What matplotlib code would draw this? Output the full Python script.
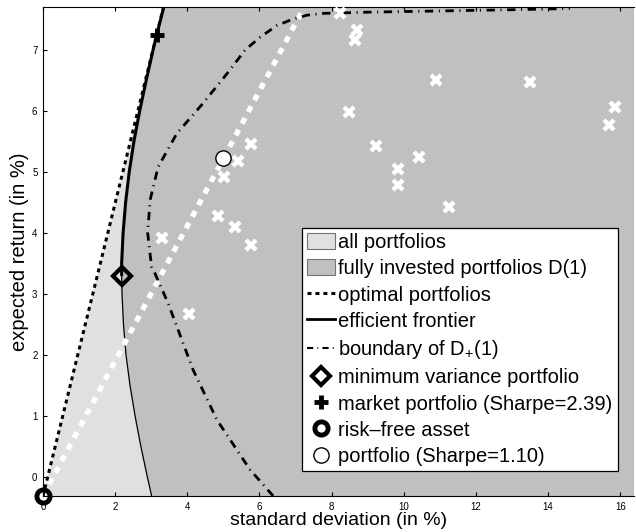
import matplotlib
matplotlib.use("Agg")
import matplotlib.pyplot as plt
from matplotlib.patches import Patch
from matplotlib.lines import Line2D

plt.rcParams['font.family'] = ['Liberation Sans', 'DejaVu Sans']
plt.rcParams['mathtext.fontset'] = 'custom'
plt.rcParams['mathtext.rm'] = 'Liberation Sans'
plt.rcParams['mathtext.it'] = 'Liberation Sans'

# all values in % (standard deviation, expected return)
rf = -0.32
mu_top = 7.7

# mean-variance frontier (hyperbola)
frontier_mu = [-0.32, 0.0, 0.5, 1.0, 1.5, 2.0, 2.5, 3.0, 3.29, 3.5, 4.0, 4.5,
               5.0, 5.5, 6.0, 6.5, 7.0, 7.25, 7.5, 7.7]
frontier_sigma = [3.01, 2.89, 2.71, 2.55, 2.41, 2.30, 2.23, 2.19, 2.18, 2.18,
                  2.22, 2.29, 2.39, 2.52, 2.68, 2.86, 3.05, 3.15, 3.26, 3.345]

# boundary of D+(1) (no short selling)
bound_sigma = [6.38, 5.74, 4.82, 4.16, 3.47, 3.06, 3.01, 2.90, 2.97, 3.19, 3.71,
               4.40, 5.18, 5.60, 6.02, 6.48, 6.94, 7.31, 7.77, 9.0, 11.0, 13.0, 14.6]
bound_mu = [-0.32, 0.11, 0.93, 1.75, 2.84, 3.39, 3.44, 4.00, 4.54, 5.08, 5.63,
            6.10, 6.67, 7.00, 7.21, 7.40, 7.51, 7.57, 7.60, 7.62, 7.64, 7.66, 7.68]

# single assets
assets_sigma = [8.23, 8.70, 8.65, 10.90, 13.50, 8.47, 15.86, 15.70, 9.23, 10.43, 9.85,
                9.85, 11.26, 5.76, 5.41, 5.02, 4.86, 5.32, 5.76, 3.29, 4.06]
assets_mu = [7.60, 7.32, 7.16, 6.51, 6.48, 5.98, 6.06, 5.77, 5.43, 5.24, 5.04,
             4.78, 4.42, 5.45, 5.18, 4.92, 4.27, 4.10, 3.80, 3.92, 2.66]

mv_point = (2.18, 3.29)       # minimum variance portfolio
market_point = (3.15, 7.25)   # market portfolio
rf_point = (0.0, rf)          # risk-free asset
port_point = (5.0, 5.22)      # some portfolio

light = '#e0e0e0'
dark = '#c0c0c0'

fig = plt.figure(figsize=(6.36, 5.32), dpi=100)
ax = fig.add_axes([43 / 636, 36 / 532, 591 / 636, 488.7 / 532])
ax.set_xlim(0, 16.38)
ax.set_ylim(rf, mu_top)
ax.set_facecolor(light)

# left of the capital market line nothing is reachable
slope = (market_point[1] - rf) / market_point[0]
sig_top = (mu_top + 1 - rf) / slope
ax.fill([0, sig_top, 0], [rf, mu_top + 1, mu_top + 1], color='white', lw=0, zorder=0.5)
# fully invested portfolios: right of the frontier
ax.fill_betweenx(frontier_mu, frontier_sigma, 30, color=dark, lw=0, zorder=0.6)

# lines
ax.plot(frontier_sigma, frontier_mu, color='black', lw=0.9, zorder=2)
upper = [i for i, m in enumerate(frontier_mu) if m >= mv_point[1]]
ax.plot([frontier_sigma[i] for i in upper], [frontier_mu[i] for i in upper],
        color='black', lw=2.2, zorder=3, solid_capstyle='butt')
ax.axline(rf_point, market_point, color='black', lw=2.2, ls=(0, (1.3, 1.3)), zorder=3)
ax.axline(rf_point, port_point, color='white', lw=3.8, ls=(0, (1.2, 1.3)), zorder=2.5)
ax.plot(bound_sigma, bound_mu, color='black', lw=2.0, ls=(0, (3, 2, 0.4, 2)), zorder=2.6)

# markers
ax.plot(assets_sigma, assets_mu, ls='none', marker='x', ms=7.5, mew=3.2,
        color='white', zorder=4)
ax.plot(*mv_point, marker='D', ms=9, mew=3, mfc='none', mec='black', zorder=5)
ax.plot(*market_point, marker='+', ms=10, mew=3.5, color='black', zorder=5)
ax.plot(*rf_point, marker='o', ms=9.5, mew=3.5, mfc='none', mec='black',
        zorder=6, clip_on=False)
ax.plot(*port_point, marker='o', ms=11, mew=1, mfc='white', mec='black', zorder=5)

ax.set_xticks(range(0, 17, 2))
ax.set_yticks(range(0, 8))
ax.tick_params(direction='in', top=True, right=False, length=3, width=0.8,
               labelsize=7, pad=4)
ax.spines['right'].set_visible(False)
for s in ['left', 'top', 'bottom']:
    ax.spines[s].set_linewidth(0.8)

ax.set_xlabel('standard deviation (in %)', fontsize=14, labelpad=0)
ax.set_ylabel('expected return (in %)', fontsize=14.5, labelpad=2)

handles = [
    Patch(facecolor=light, edgecolor='0.45', lw=0.8),
    Patch(facecolor=dark, edgecolor='0.45', lw=0.8),
    Line2D([], [], color='black', lw=2.2, ls=(0, (1.3, 1.3))),
    Line2D([], [], color='black', lw=2.0),
    Line2D([], [], color='black', lw=1.5, ls=(0, (3, 2, 0.4, 2))),
    Line2D([], [], ls='none', marker='D', ms=9, mew=3, mfc='none', mec='black'),
    Line2D([], [], ls='none', marker='+', ms=10, mew=3.5, color='black'),
    Line2D([], [], ls='none', marker='o', ms=9.5, mew=3.5, mfc='none', mec='black'),
    Line2D([], [], ls='none', marker='o', ms=11, mew=1, mfc='white', mec='black'),
]
labels = ['all portfolios', 'fully invested portfolios D(1)', 'optimal portfolios',
          'efficient frontier', 'boundary of D$_{+}$(1)', 'minimum variance portfolio',
          'market portfolio (Sharpe=2.39)', 'risk\u2013free asset', 'portfolio (Sharpe=1.10)']
leg = ax.legend(handles, labels, loc='upper left', bbox_to_anchor=(302 / 636, 1 - 228 / 532),
                bbox_transform=fig.transFigure, borderaxespad=0, fontsize=14.5,
                fancybox=False, framealpha=1, edgecolor='black', handlelength=1.4,
                handleheight=0.85, handletextpad=0.15, labelspacing=0.36, borderpad=0.25)
leg.get_frame().set_linewidth(0.9)
leg.set_zorder(10)

fig.savefig('out.png', dpi=100)
